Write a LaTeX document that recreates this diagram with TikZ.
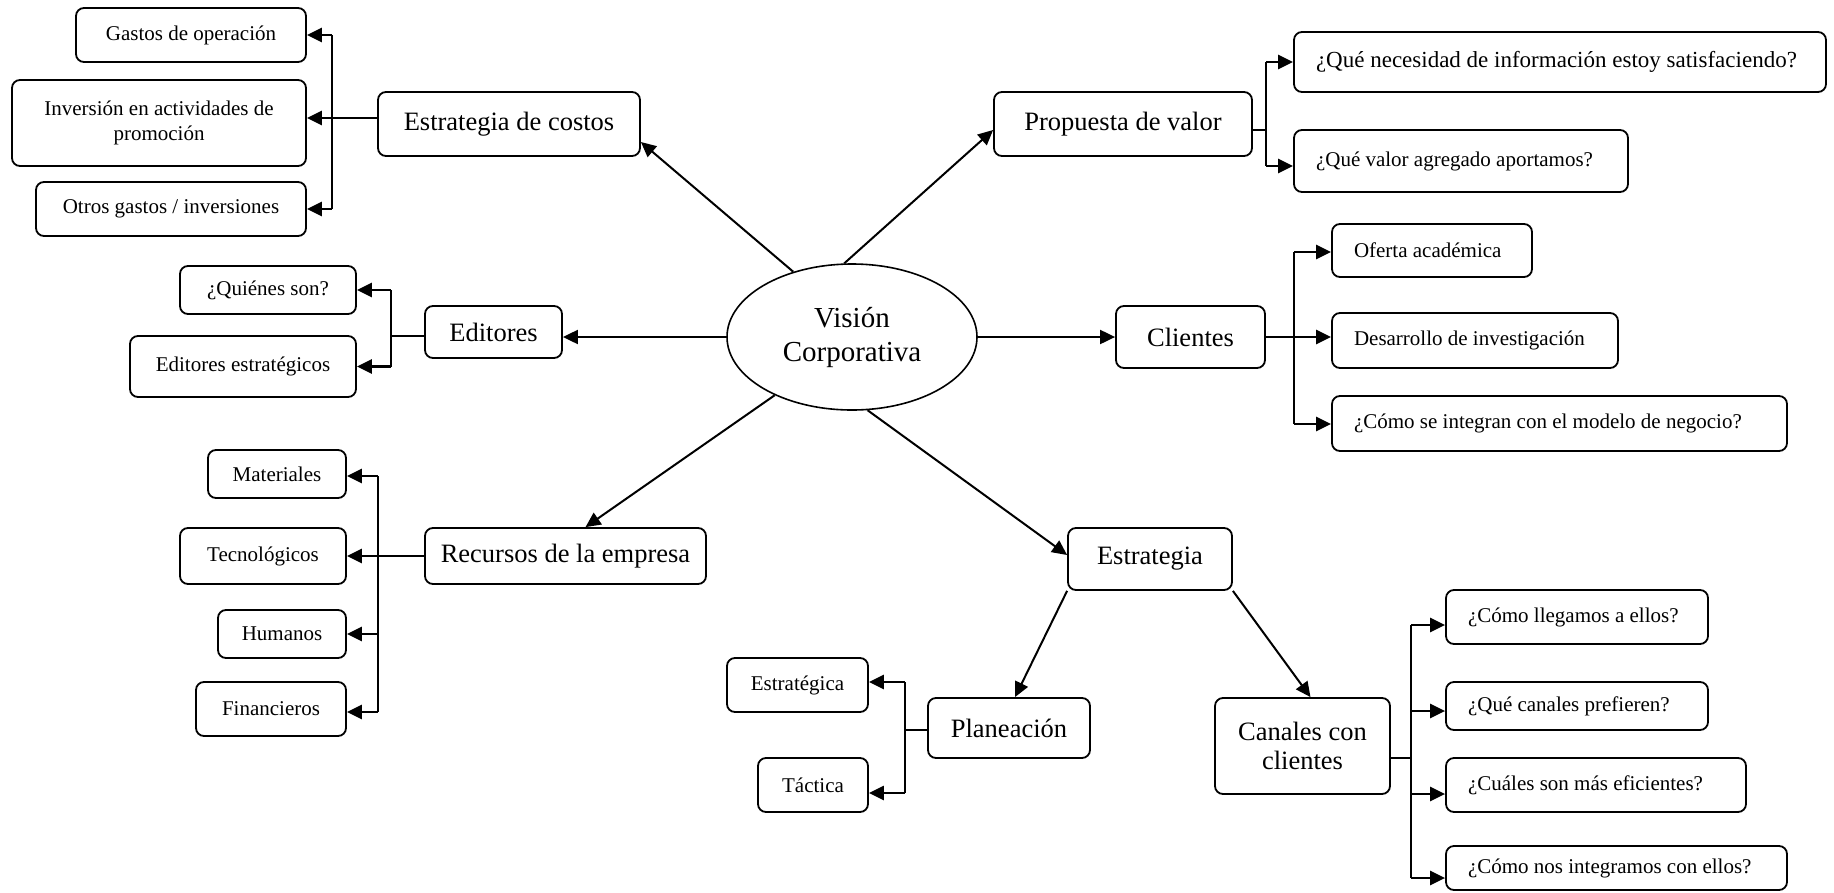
\documentclass[tikz,border=0pt]{standalone}
\usepackage{fontspec}
\setmainfont{Liberation Serif}
\usetikzlibrary{arrows.meta,shapes.geometric}
\newcommand{\qtxt}[2]{\makebox[#1][l]{#2}}
\begin{document}
\begin{tikzpicture}[x=1pt,y=-1pt,
  box/.style={draw, rounded corners=8pt, line width=1.8pt, inner sep=0pt, align=center, font=\fontsize{21}{25.5}\selectfont},
  big/.style={font=\fontsize{26.5}{29}\selectfont},
  qbox/.style={box, inner xsep=22pt},
  ln/.style={line width=1.8pt},
  arr/.style={line width=2pt, -{Triangle[length=15pt,width=14pt]}},
  stub/.style={line width=2.4pt, -{Triangle[length=15pt,width=14pt]}},
]
\fill[white] (0,0) rectangle (1834,892);
\useasboundingbox (0,0) rectangle (1834,892);

% centre
\node[draw, ellipse, line width=1.6pt, minimum width=250pt, minimum height=146pt, inner sep=0pt, align=center, font=\fontsize{29}{34}\selectfont] (vc) at (852,337) {Visión\\Corporativa};

% costos
\node[box, big, minimum width=262pt, minimum height=64pt] (costos) at (509,124) {Estrategia de costos};
\node[box, minimum width=230pt, minimum height=54pt] (gastos) at (191,35) {Gastos de operación};
\node[box, minimum width=294pt, minimum height=86pt] (inversion) at (159,123) {Inversión en actividades de\\promoción};
\node[box, minimum width=270pt, minimum height=54pt] (otros) at (171,209) {Otros gastos / inversiones};

% editores
\node[box, big, minimum width=137pt, minimum height=52pt] (editores) at (493.5,332) {Editores};
\node[box, minimum width=176pt, minimum height=48pt] (quienes) at (268,290) {¿Quiénes son?};
\node[box, minimum width=226pt, minimum height=61pt] (edest) at (243,366.5) {Editores estratégicos};

% propuesta
\node[box, big, minimum width=258pt, minimum height=64pt] (propuesta) at (1123,124) {Propuesta de valor};
\node[qbox, minimum height=60pt, font=\fontsize{23}{27}\selectfont] (necesidad) at (1560,62) {\qtxt{488pt}{¿Qué necesidad de información estoy satisfaciendo?}};
\node[qbox, minimum height=62pt] (valor) at (1461,161) {\qtxt{290pt}{¿Qué valor agregado aportamos?}};

% clientes
\node[box, big, minimum width=149pt, minimum height=62pt] (clientes) at (1190.5,337) {Clientes};
\node[qbox, minimum height=53pt] (oferta) at (1432,250.5) {\qtxt{156pt}{Oferta académica}};
\node[qbox, minimum height=55pt] (desarrollo) at (1475,340.5) {\qtxt{242pt}{Desarrollo de investigación}};
\node[qbox, minimum height=55pt] (integran) at (1559.5,423.5) {\qtxt{411pt}{¿Cómo se integran con el modelo de negocio?}};

% recursos
\node[box, big, minimum width=281pt, minimum height=56pt] (recursos) at (565.5,556) {Recursos de la empresa};
\node[box, minimum width=138pt, minimum height=48pt] (materiales) at (277,474) {Materiales};
\node[box, minimum width=166pt, minimum height=56pt] (tecnologicos) at (263,556) {Tecnológicos};
\node[box, minimum width=128pt, minimum height=48pt] (humanos) at (282,634) {Humanos};
\node[box, minimum width=150pt, minimum height=54pt] (financieros) at (271,709) {Financieros};

% estrategia
\node[box, big, minimum width=164pt, minimum height=62pt] (estrategia) at (1150,559) {Estrategia};
\node[box, big, minimum width=162pt, minimum height=60pt] (planeacion) at (1009,728) {Planeación};
\node[box, minimum width=141pt, minimum height=54pt] (estrategica) at (797.5,685) {Estratégica};
\node[box, minimum width=110pt, minimum height=54pt] (tactica) at (813,785) {Táctica};
\node[box, big, minimum width=175pt, minimum height=96pt] (canales) at (1302.5,746) {Canales con\\clientes};
\node[qbox, minimum height=54pt] (llegamos) at (1577,617) {\qtxt{218pt}{¿Cómo llegamos a ellos?}};
\node[qbox, minimum height=48pt] (canalespref) at (1577,706) {\qtxt{218pt}{¿Qué canales prefieren?}};
\node[qbox, minimum height=54pt] (cuales) at (1596,785) {\qtxt{256pt}{¿Cuáles son más eficientes?}};
\node[qbox, minimum height=44pt] (integramos) at (1616.5,868) {\qtxt{297pt}{¿Cómo nos integramos con ellos?}};

% main arrows
\draw[arr] (vc.132) -- ([yshift=-18pt]costos.east);
\draw[arr] (vc.96) -- ([yshift=-6pt]propuesta.west);
\draw[arr] (vc.west) -- (vc.west -| editores.east);
\draw[arr] (vc.east) -- (vc.east -| clientes.west);
\draw[arr] (vc.217) -- ([xshift=20pt]recursos.north);
\draw[arr] (vc.282) -- ([yshift=4pt]estrategia.west);
\draw[arr] (estrategia.south west) -- ([xshift=6pt]planeacion.north);
\draw[arr] (estrategia.south east) -- ([xshift=8pt]canales.north);

% costos bracket
\coordinate (cb) at (332,118);
\draw[ln] ([yshift=6pt]costos.west) -- (cb);
\draw[ln] (cb |- gastos.east) -- (cb |- otros.east);
\draw[stub] (cb |- gastos.east) -- (gastos.east);
\draw[stub] (cb) -- (cb -| inversion.east);
\draw[stub] (cb |- otros.east) -- (otros.east);

% editores bracket
\coordinate (eb) at (391,336);
\draw[ln] (editores.west |- eb) -- (eb);
\draw[ln] (eb |- quienes.east) -- (eb |- edest.east);
\draw[stub] (eb |- quienes.east) -- (quienes.east);
\draw[stub] (eb |- edest.east) -- (edest.east);

% propuesta bracket
\coordinate (pb) at (1266,130);
\coordinate (pb1) at (1266,62);
\coordinate (pb2) at (1266,166);
\draw[ln] ([yshift=-6pt]propuesta.east) -- (pb);
\draw[ln] (pb1) -- (pb2);
\draw[stub] (pb1) -- (pb1 -| necesidad.west);
\draw[stub] (pb2) -- (pb2 -| valor.west);

% clientes bracket
\coordinate (kb) at (1294,337);
\coordinate (kb1) at (1294,252);
\coordinate (kb3) at (1294,424);
\draw[ln] (clientes.east) -- (kb);
\draw[ln] (kb1) -- (kb3);
\draw[stub] (kb1) -- (kb1 -| oferta.west);
\draw[stub] (kb) -- (kb -| desarrollo.west);
\draw[stub] (kb3) -- (kb3 -| integran.west);

% recursos bracket
\coordinate (rb) at (378,556);
\coordinate (rb1) at (378,476);
\coordinate (rb4) at (378,712);
\draw[ln] (recursos.west) -- (rb);
\draw[ln] (rb1) -- (rb4);
\draw[stub] (rb1) -- (rb1 -| materiales.east);
\draw[stub] (rb) -- (rb -| tecnologicos.east);
\draw[stub] (rb |- humanos.east) -- (humanos.east);
\draw[stub] (rb4) -- (rb4 -| financieros.east);

% planeacion bracket
\coordinate (lb) at (905,730);
\coordinate (lb1) at (905,682);
\coordinate (lb2) at (905,793);
\draw[ln] (planeacion.west |- lb) -- (lb);
\draw[ln] (lb1) -- (lb2);
\draw[stub] (lb1) -- (lb1 -| estrategica.east);
\draw[stub] (lb2) -- (lb2 -| tactica.east);

% canales bracket
\coordinate (sb) at (1411,758);
\coordinate (sb1) at (1411,625);
\coordinate (sb2) at (1411,711);
\coordinate (sb3) at (1411,794);
\coordinate (sb4) at (1411,878);
\draw[ln] (canales.east |- sb) -- (sb);
\draw[ln] (sb1) -- (sb4);
\draw[stub] (sb1) -- (sb1 -| llegamos.west);
\draw[stub] (sb2) -- (sb2 -| canalespref.west);
\draw[stub] (sb3) -- (sb3 -| cuales.west);
\draw[stub] (sb4) -- (sb4 -| integramos.west);
\end{tikzpicture}
\end{document}
